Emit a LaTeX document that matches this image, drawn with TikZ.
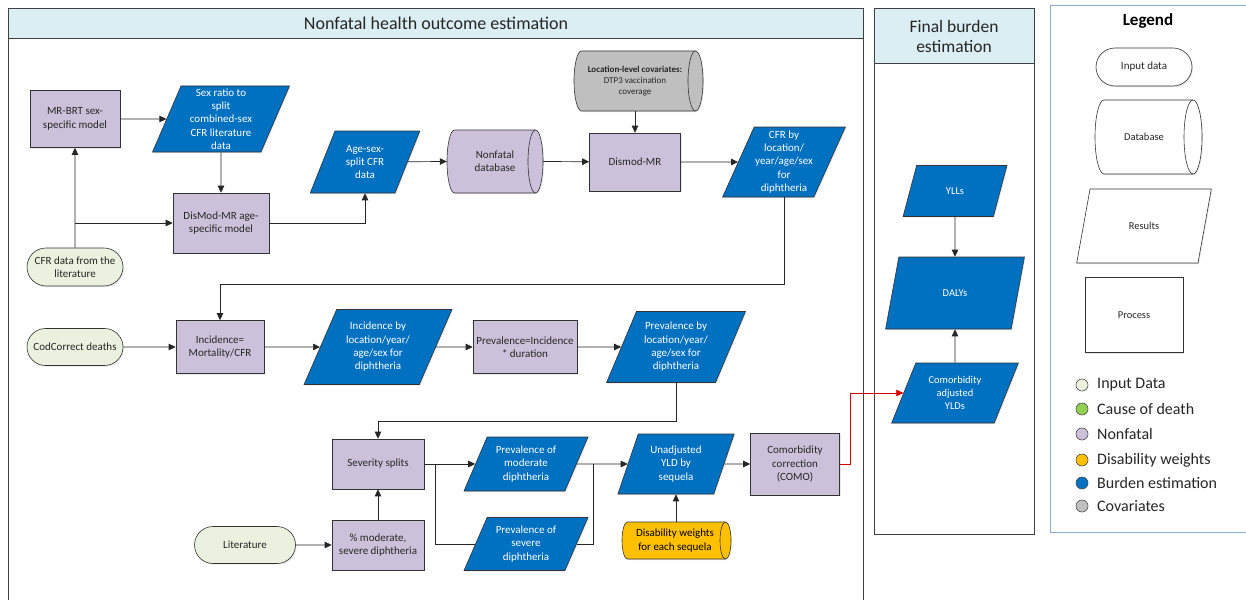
\documentclass[tikz,border=0pt]{standalone}
\usepackage{fontspec}
\setmainfont{Carlito}
\usetikzlibrary{shapes.geometric,shapes.misc,arrows.meta,shadows}
\definecolor{nfc}{HTML}{CCC1DA}
\definecolor{bec}{HTML}{0070C0}
\definecolor{inpc}{HTML}{EBF1DE}
\definecolor{covc}{HTML}{BFBFBF}
\definecolor{dwc}{HTML}{FFC000}
\definecolor{codc}{HTML}{92D050}
\definecolor{hdrc}{HTML}{DAEEF3}
\definecolor{lgbc}{HTML}{8EA9CF}
\definecolor{txtc}{HTML}{262626}
\newcommand{\fsz}{\fontsize{11}{13.3}\selectfont}
% cylinder outline: x1, y1 (top), x2, y2 (bottom), cap x radius, fill
\newcommand{\cylshape}[6]{%
  \draw[draw=black!80, line width=0.6pt, fill=#6, drop shadow={shadow xshift=1pt,shadow yshift=-1.2pt,opacity=0.18}]
    ({#3-#5},#2) -- ({#1+#5},#2)
    arc[start angle=270, end angle=90, x radius=#5, y radius={(#4-#2)/2}]
    -- ({#3-#5},#4)
    arc[start angle=90, end angle=-90, x radius=#5, y radius={(#4-#2)/2}] -- cycle;
  \draw[draw=black!80, line width=0.6pt]
    ({#3-#5},#2) arc[start angle=270, end angle=90, x radius=#5, y radius={(#4-#2)/2}];
}
\begin{document}
\begin{tikzpicture}[x=1pt,y=-1pt,
  shd/.style={drop shadow={shadow xshift=1pt,shadow yshift=-1.2pt,opacity=0.18}},
  base/.style={draw=black!80, line width=0.6pt, align=center, inner sep=1pt, font=\fsz, text=txtc, shd},
  wh/.style 2 args={minimum width=#1pt, minimum height=#2pt},
  proc/.style={base, rectangle, fill=nfc},
  res/.style={base, trapezium, trapezium left angle=#1, trapezium right angle={180-#1}, trapezium stretches=true, fill=bec, text=white, inner sep=0pt},
  inp/.style={base, rounded rectangle, fill=inpc},
  cyltext/.style={rectangle, align=center, inner sep=0pt, font=\fsz, text=txtc},
  panel/.style={draw=black!75, line width=0.8pt},
  conn/.style={line width=0.7pt, draw=black!85},
  arr/.style={conn, -{Triangle[length=7pt,width=6.5pt]}},
  lc/.style={circle, draw=black!70, line width=0.6pt, minimum size=12pt, inner sep=0pt},
  lt/.style={anchor=west, font=\fontsize{16}{18}\selectfont, text=txtc, inner sep=0pt}
]
\useasboundingbox (0,0) rectangle (1246,599);
\fill[white] (0,0) rectangle (1246,599);

% panels
\draw[panel, fill=white] (8,8) rectangle (863,610);
\draw[panel, fill=hdrc] (8,8) rectangle (863,38);
\node[font=\fontsize{18}{21}\selectfont, text=txtc] (t1) at (436,23) {Nonfatal health outcome estimation};
\draw[panel, fill=white] (874,8) rectangle (1034,534);
\draw[panel, fill=hdrc] (874,8) rectangle (1034,63);
\node[font=\fontsize{17.5}{20}\selectfont, text=txtc, align=center] (t2) at (954,36) {Final burden\\estimation};
\draw[draw=lgbc, line width=0.8pt, fill=white, shd] (1050,5) rectangle (1262,532);
\node[font=\bfseries\fontsize{17}{19}\selectfont, text=black] (t3) at (1148,21) {Legend};

% top section
\node[proc, wh={90}{57}] (mrbrt) at (75,119) {MR-BRT sex-\\specific model};
\node[res=70, wh={137}{66}] (sexratio) at (221,119) {Sex ratio to\\split\\combined-sex\\CFR literature\\data};
\node[proc, wh={96}{60}] (dismodage) at (221,223) {DisMod-MR age-\\specific model};
\node[res=65, wh={110}{62}] (agesex) at (365,162) {Age-sex-\\split CFR\\data};
\node[inp, wh={98}{38}] (cfrlit) at (75,267) {CFR data from the\\literature};
\cylshape{447}{130}{543}{193}{7.5}{nfc}
\node[cyltext, wh={96}{63}] (nfdb) at (495,161.5) {Nonfatal\\database};
\cylshape{574}{51}{703}{111}{7.5}{covc}
\node[cyltext, wh={120}{60}, font=\fontsize{9}{11.3}\selectfont] (cov) at (635,81) {\textbf{Location-level covariates:}\\DTP3 vaccination\\coverage};
\node[proc, wh={91}{58}] (dismod) at (635,162) {Dismod-MR};
\node[res=64, wh={123}{70}] (cfrby) at (784,162) {CFR by\\location/\\year/age/sex\\for\\diphtheria};

% middle section
\node[inp, wh={98}{37}] (codc) at (75,347) {CodCorrect deaths};
\node[proc, wh={88}{53}] (incid) at (220,347) {Incidence=\\Mortality/CFR};
\node[res=63, wh={148}{75}] (incby) at (378,347) {Incidence by\\location/year/\\age/sex for\\diphtheria};
\node[proc, wh={104}{53}] (preveq) at (525,347) {Prevalence=Incidence\\* duration};
\node[res=64, wh={139}{71}] (prevby) at (676,347) {Prevalence by\\location/year/\\age/sex for\\diphtheria};

% bottom section
\node[proc, wh={92}{50}] (sev) at (378,464) {Severity splits};
\node[proc, wh={92}{50}] (pct) at (378,545) {\% moderate,\\severe diphtheria};
\node[inp, wh={103}{37}] (lit) at (245,545) {Literature};
\node[res=63.5, wh={125}{54}] (mod) at (526,464) {Prevalence of\\moderate\\diphtheria};
\node[res=63.5, wh={125}{53}] (severe) at (526,544) {Prevalence of\\severe\\diphtheria};
\node[res=69, wh={117}{60}] (unadj) at (676,464) {Unadjusted\\YLD by\\sequela};
\cylshape{622}{522}{731}{559}{5.5}{dwc}
\node[cyltext, wh={104}{37}, text=black] (dw) at (675,540.5) {Disability weights\\for each sequela};
\node[proc, wh={89}{62}] (como) at (795,464) {Comorbidity\\correction\\(COMO)};

% final burden
\node[res=65, wh={104}{51}, font=\fontsize{10.5}{12.5}\selectfont] (ylls) at (955,191) {YLLs};
\node[res=67, wh={139}{72}, font=\fontsize{10.5}{12.5}\selectfont] (dalys) at (955,293) {DALYs};
\node[res=64, wh={127}{60}, font=\fontsize{10.5}{13}\selectfont] (cay) at (955,393) {Comorbidity\\adjusted\\YLDs};

% legend shapes
\node[inp, fill=white, wh={98}{38}, font=\fontsize{11}{13}\selectfont] (linp) at (1144,67) {Input data};
\cylshape{1095}{100}{1202}{174}{9}{white}
\node[cyltext, wh={100}{74}, font=\fontsize{10.5}{13}\selectfont] (ldb) at (1144,137) {Database};
\node[res=63, fill=white, text=txtc, wh={135}{74}, font=\fontsize{10.5}{13}\selectfont] (lres) at (1144,226) {Results};
\node[proc, fill=white, wh={98}{75}, font=\fontsize{10.5}{13}\selectfont] (lproc) at (1134,315) {Process};

% legend colours
\node[lc, fill=inpc] (l1) at (1082,385) {};
\node[lt] (lt1) at (1097,385) {Input Data};
\node[lc, fill=codc] (l2) at (1082,409) {};
\node[lt] (lt2) at (1097,409) {Cause of death};
\node[lc, fill=nfc] (l3) at (1082,434) {};
\node[lt] (lt3) at (1097,434) {Nonfatal};
\node[lc, fill=dwc] (l4) at (1082,460) {};
\node[lt] (lt4) at (1097,460) {Disability weights};
\node[lc, fill=bec] (l5) at (1082,483) {};
\node[lt] (lt5) at (1097,483) {Burden estimation};
\node[lc, fill=covc] (l6) at (1082,506) {};
\node[lt] (lt6) at (1097,506) {Covariates};

% connectors
\coordinate (b1) at (cfrlit.north |- dismodage.west);
\draw[arr] (cfrlit) -- (mrbrt);
\draw[arr] (b1) -- (dismodage);
\draw[arr] (mrbrt) -- (sexratio);
\draw[arr] (sexratio) -- (dismodage);
\draw[arr] (dismodage.east) -| (agesex.south);
\draw[arr] (agesex) -- (nfdb.west);
\draw[arr] (nfdb.east) -- (dismod);
\draw[arr] (dismod.north |- cov.south) -- (dismod.north);
\draw[arr] (dismod) -- (cfrby);
\coordinate (k1) at (0,284);
\draw[arr] (cfrby.south) -- (cfrby.south |- k1) -| (incid.north);
\draw[arr] (codc) -- (incid);
\draw[arr] (incid) -- (incby);
\draw[arr] (incby) -- (preveq);
\draw[arr] (preveq) -- (prevby);
\coordinate (k2) at (0,421);
\draw[arr] (prevby.south) -- (prevby.south |- k2) -| (sev.north);
\draw[arr] (pct) -- (sev);
\draw[arr] (lit) -- (pct);
\draw[arr] (sev) -- (mod);
\coordinate (k3) at (435,0);
\draw[conn] (sev.east -| k3) |- (severe);
\draw[arr] (mod) -- (unadj);
\coordinate (k4) at (593,0);
\draw[conn] (severe) -| (k4 |- mod.east);
\draw[arr] (dw.north -| unadj.south) -- (unadj.south);
\draw[arr] (unadj) -- (como);
\coordinate (k5) at (850,0);
\draw[arr, draw=red!85!black, color=red!85!black] (como.east) -- (como.east -| k5) |- (cay);
\draw[arr] (ylls) -- (dalys);
\draw[arr] (cay) -- (dalys);
\end{tikzpicture}
\end{document}
